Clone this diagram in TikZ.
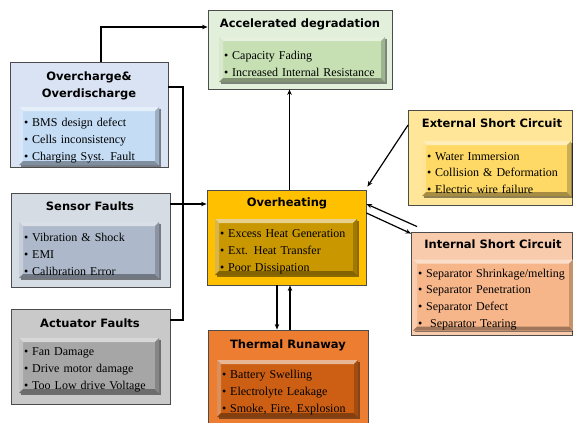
\documentclass[tikz,border=0pt]{standalone}
\usepackage{fontspec}
\setmainfont{Liberation Serif}
\newfontfamily\headfont{DejaVu Sans}
\usepackage{tikz}
\usetikzlibrary{arrows.meta,shadows}
\definecolor{acc_out}{HTML}{E2EFDA}
\definecolor{acc_in}{HTML}{C6E0B4}
\definecolor{ovc_out}{HTML}{DAE3F3}
\definecolor{ovc_in}{HTML}{C4DCF4}
\definecolor{sens_out}{HTML}{D6DCE4}
\definecolor{sens_in}{HTML}{ADB9CA}
\definecolor{act_out}{HTML}{C9C9C9}
\definecolor{act_in}{HTML}{A6A6A6}
\definecolor{heat_out}{HTML}{FFC000}
\definecolor{heat_in}{HTML}{C99700}
\definecolor{therm_out}{HTML}{ED7D31}
\definecolor{therm_in}{HTML}{CC5F14}
\definecolor{ext_out}{HTML}{FFE699}
\definecolor{ext_in}{HTML}{FFD966}
\definecolor{int_out}{HTML}{F8CBAD}
\definecolor{int_in}{HTML}{F6B68A}

\tikzset{
  outer/.style={draw=black!70, line width=0.9pt, fill=#1, inner sep=0pt},
  head/.style={font=\headfont\bfseries\fontsize{11.5}{17}\selectfont, align=center, inner sep=0pt},
  inner/.style={fill=#1, align=left, inner xsep=5pt, inner ysep=0pt,
    font=\fontsize{12}{16.8}\selectfont, execute at begin node={\rule{0pt}{17pt}},
    drop shadow={shadow xshift=1.5pt, shadow yshift=-1.5pt, opacity=0.45, fill=black},
    path picture={
      \fill[#1!45!white] (path picture bounding box.north west) -- (path picture bounding box.north east)
        -- ([shift={(-4pt,-4pt)}]path picture bounding box.north east) -- ([shift={(4pt,-4pt)}]path picture bounding box.north west) -- cycle;
      \fill[#1!70!white] (path picture bounding box.north west) -- (path picture bounding box.south west)
        -- ([shift={(4pt,4pt)}]path picture bounding box.south west) -- ([shift={(4pt,-4pt)}]path picture bounding box.north west) -- cycle;
      \fill[#1!65!black] (path picture bounding box.south west) -- (path picture bounding box.south east)
        -- ([shift={(-4pt,4pt)}]path picture bounding box.south east) -- ([shift={(4pt,4pt)}]path picture bounding box.south west) -- cycle;
      \fill[#1!80!black] (path picture bounding box.north east) -- (path picture bounding box.south east)
        -- ([shift={(-4pt,4pt)}]path picture bounding box.south east) -- ([shift={(-4pt,-4pt)}]path picture bounding box.north east) -- cycle;
    }},
  link/.style={->, line width=1.2pt},
}

\begin{document}
\begin{tikzpicture}[x=1pt,y=-1pt,>={Stealth[length=5.5pt,width=4.5pt]}]
    \useasboundingbox (0,0) rectangle (573,423);

    % Accelerated degradation
    \node[outer=acc_out, minimum width=184pt, minimum height=79pt] (acc) at (300,49.5) {};
    \node[head] (acchead) at (300,24) {Accelerated degradation};
    \node[inner=acc_in, text width=156pt, minimum height=45pt] (accin) at (302,59.5)
        {\textbullet\ Capacity Fading\\\textbullet\ Increased Internal Resistance};

    % Overcharge & Overdischarge
    \node[outer=ovc_out, minimum width=158pt, minimum height=105pt] (ovc) at (89,114.5) {};
    \node[head] (ovchead) at (89,85.5) {Overcharge\&\\Overdischarge};
    \node[inner=ovc_in, text width=130pt, minimum height=58pt] (ovcin) at (89,136)
        {\textbullet\ BMS design defect\\\textbullet\ Cells inconsistency\\\textbullet\ Charging Syst. Fault};

    % Sensor faults
    \node[outer=sens_out, minimum width=159pt, minimum height=94pt] (sens) at (90.5,240) {};
    \node[head] (senshead) at (90,206) {Sensor Faults};
    \node[inner=sens_in, text width=130pt, minimum height=56pt] (sensin) at (89,250)
        {\textbullet\ Vibration \& Shock\\\textbullet\ EMI\\\textbullet\ Calibration Error};

    % Actuator faults
    \node[outer=act_out, minimum width=159pt, minimum height=95pt] (act) at (90.5,356.5) {};
    \node[head] (acthead) at (90,323) {Actuator Faults};
    \node[inner=act_in, text width=130pt, minimum height=55pt] (actin) at (89,365.5)
        {\textbullet\ Fan Damage\\\textbullet\ Drive motor damage\\\textbullet\ Too Low drive Voltage};

    % Overheating
    \node[outer=heat_out, minimum width=159pt, minimum height=95pt] (heat) at (286.5,237.5) {};
    \node[head] (heathead) at (287,203) {Overheating};
    \node[inner=heat_in, text width=132pt, minimum height=56pt] (heatin) at (286,247)
        {\textbullet\ Excess Heat Generation\\\textbullet\ Ext. Heat Transfer\\\textbullet\ Poor Dissipation};

    % Thermal runaway
    \node[outer=therm_out, minimum width=160pt, minimum height=93pt] (therm) at (288,376.5) {};
    \node[head] (thermhead) at (288,345) {Thermal Runaway};
    \node[inner=therm_in, text width=131pt, minimum height=57pt] (thermin) at (287.5,388.5)
        {\textbullet\ Battery Swelling\\\textbullet\ Electrolyte Leakage\\\textbullet\ Smoke, Fire, Explosion};

    % External short circuit
    \node[outer=ext_out, minimum width=164pt, minimum height=95pt] (ext) at (490.5,157.5) {};
    \node[head] (exthead) at (492,123) {External Short Circuit};
    \node[inner=ext_in, text width=139pt, minimum height=55pt] (extin) at (496.5,168.5)
        {\textbullet\ Water Immersion\\\textbullet\ Collision \& Deformation\\\textbullet\ Electric wire failure};

    % Internal short circuit
    \node[outer=int_out, minimum width=161pt, minimum height=103pt] (int) at (492,283.5) {};
    \node[head] (inthead) at (493,244) {Internal Short Circuit};
    \node[inner=int_in, text width=150pt, minimum height=71pt] (intin) at (493,295)
        {\textbullet\ Separator Shrinkage/melting\\\textbullet\ Separator Penetration\\\textbullet\ Separator Defect\\\textbullet\ \ Separator Tearing};

    % Liaisons
    \coordinate (bustop) at (183,87);
    \coordinate (busbot) at (183,320);
    \draw[link] ([xshift=12pt]ovc.north) |- ([yshift=22.5pt]acc.west);
    \draw[line width=1.2pt] ([yshift=27.5pt]ovc.east) -- (bustop) -- (busbot) -- ([yshift=36.5pt]act.east);
    \draw[link] ([yshift=36pt]sens.east) -- ([yshift=33.5pt]heat.west);
    \draw[link] ([xshift=3pt]heat.north) -- ([xshift=3pt]heat.north |- acc.south);
    \draw[link] ([yshift=32.5pt]ext.west) -- ([shift={(1pt,3pt)}]heat.north east);
    \draw[link] ([shift={(6pt,5pt)}]int.north west) -- ([yshift=33.5pt]heat.east);
    \draw[link] ([yshift=24.5pt]heat.east) -- ([yshift=-2pt]int.north west);
    \draw[link] ([xshift=-9.5pt]heat.south) -- ([xshift=-9.5pt]heat.south |- therm.north);
    \draw[link] ([xshift=2pt]therm.north) -- ([xshift=2pt]therm.north |- heat.south);
\end{tikzpicture}
\end{document}
